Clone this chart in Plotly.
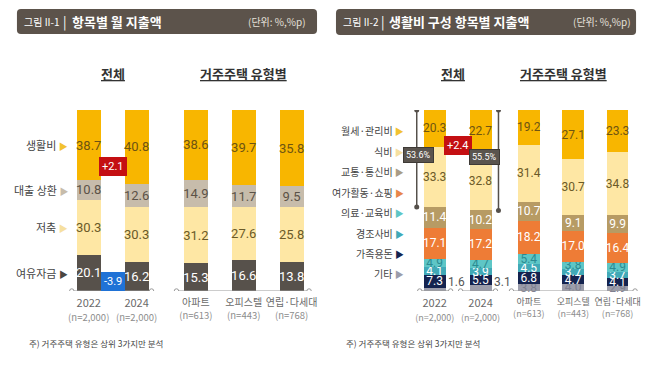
import plotly.graph_objects as go

W, H = 658, 377

# ---------------- data : 그림 II-1 ----------------
l_periods = ["2022", "2024"]
l_period_n = ["(n=2,000)", "(n=2,000)"]
l_types = ["아파트", "오피스텔", "연립·다세대"]
l_type_n = ["(n=613)", "(n=443)", "(n=768)"]
l_items = ["생활비", "대출 상환", "저축", "여유자금"]
l_living_total = [38.7, 40.8]
l_loan_total = [10.8, 12.6]
l_saving_total = [30.3, 30.3]
l_spare_total = [20.1, 16.2]
l_living_type = [38.6, 39.7, 35.8]
l_loan_type = [14.9, 11.7, 9.5]
l_saving_type = [31.2, 27.6, 25.8]
l_spare_type = [15.3, 16.6, 13.8]

# ---------------- data : 그림 II-2 ----------------
r_periods = ["2022", "2024"]
r_period_n = ["(n=2,000)", "(n=2,000)"]
r_types = ["아파트", "오피스텔", "연립·다세대"]
r_type_n = ["(n=613)", "(n=443)", "(n=768)"]
r_items = ["월세·관리비", "식비", "교통·통신비", "여가활동·쇼핑", "의료·교육비", "경조사비", "가족용돈", "기타"]
r_rent_total = [20.3, 22.7]
r_food_total = [33.3, 32.8]
r_transport_total = [11.4, 10.2]
r_leisure_total = [17.1, 17.2]
r_medical_total = [4.9, 4.7]
r_events_total = [4.1, 3.9]
r_family_total = [7.3, 5.5]
r_other_total = [1.6, 3.1]
r_rent_type = [19.2, 27.1, 23.3]
r_food_type = [31.4, 30.7, 34.8]
r_transport_type = [10.7, 9.1, 9.9]
r_leisure_type = [18.2, 17.0, 16.4]
r_medical_type = [5.4, 3.8, 4.9]
r_events_type = [4.5, 3.7, 3.7]
r_family_type = [6.8, 4.7, 4.1]
r_other_type = [3.8, 4.0, 2.9]

KR = "Noto Sans CJK KR"
NUM = "Roboto, Noto Sans CJK KR"


def px(x):
    return x / W


def py(y):
    return 1 - y / H


def fmt(v):
    return f"{v:.1f}"


fig = go.Figure()

# ---- left panel bars (bottom -> top) ----
left_series = [
    (l_spare_total, l_spare_type, "#57514b", "#ffffff"),
    (l_saving_total, l_saving_type, "#fee7a4", "#6b5a28"),
    (l_loan_total, l_loan_type, "#c7bcab", "#5b5247"),
    (l_living_total, l_living_type, "#f8b600", "#6e5412"),
]
for tot, typ, col, tcol in left_series:
    for xs, vals, ax in ((l_periods, tot, "x"), (l_types, typ, "x2")):
        fig.add_trace(go.Bar(
            x=xs, y=vals, xaxis=ax, yaxis="y", width=0.5,
            marker=dict(color=col, line=dict(width=0)),
            text=[fmt(v) for v in vals], textposition="inside",
            insidetextanchor="middle", textangle=0, constraintext="none",
            textfont=dict(size=13, color=tcol, family=NUM),
            cliponaxis=False, hoverinfo="skip", showlegend=False))

# ---- right panel bars (bottom -> top) ----
right_series = [
    (r_other_total, r_other_type, "#9c9dab", "#7f8090"),
    (r_family_total, r_family_type, "#14234f", "#ffffff"),
    (r_events_total, r_events_type, "#41a9b7", "#ffffff"),
    (r_medical_total, r_medical_type, "#5ec6c6", "#2b8b92"),
    (r_leisure_total, r_leisure_type, "#ee7c36", "#ffffff"),
    (r_transport_total, r_transport_type, "#b79b64", "#ffffff"),
    (r_food_total, r_food_type, "#fee7a4", "#6b5a28"),
    (r_rent_total, r_rent_type, "#f8b600", "#6e5412"),
]
for i, (tot, typ, col, tcol) in enumerate(right_series):
    for xs, vals, ax, wd in ((r_periods, tot, "x3", 0.48), (r_types, typ, "x4", 0.49)):
        txt = [fmt(v) for v in vals]
        if i == 0 and ax == "x3":
            txt = ["" for v in vals]
        fig.add_trace(go.Bar(
            x=xs, y=vals, xaxis=ax, yaxis="y", width=wd,
            marker=dict(color=col, line=dict(width=0)),
            text=txt, textposition="inside",
            insidetextanchor="middle", textangle=0, constraintext="none",
            textfont=dict(size=12, color=tcol, family=NUM),
            cliponaxis=False, hoverinfo="skip", showlegend=False))


def ticks(cats, ns, nsize):
    return [f"{c}<br><span style='font-size:{nsize}px;color:#8d8d8d'>{n}</span>" for c, n in zip(cats, ns)]


def xax(lo, hi, cats, ns, size, nsize):
    return dict(domain=[px(lo), px(hi)], range=[-0.5, len(cats) - 0.5], tickvals=cats,
                ticktext=ticks(cats, ns, nsize), type="category", showgrid=False, zeroline=False,
                showline=False, ticks="", anchor="y", ticklabelstandoff=4, tickangle=0,
                tickfont=dict(family=KR, size=size, color="#6a6a6a"))


fig.update_layout(
    width=W, height=H, margin=dict(l=0, r=0, t=0, b=0),
    paper_bgcolor="white", plot_bgcolor="white",
    barmode="stack", barnorm="percent", hovermode=False,
    font=dict(family=KR, color="#444"),
    yaxis=dict(domain=[py(291), py(110)], range=[0, 100], visible=False, fixedrange=True),
    xaxis=xax(65, 161, l_periods, l_period_n, 11, 9.5),
    xaxis2=xax(172.5, 316.5, l_types, l_type_n, 10, 9.5),
    xaxis3=xax(413, 505, r_periods, r_period_n, 11, 9),
    xaxis4=xax(508.25, 641.75, r_types, r_type_n, 9, 9),
)

shapes = []
ann = []


def rrect(x0, y0, x1, y1, r, color):
    pts = (f"M {px(x0 + r)},{py(y0)} L {px(x1 - r)},{py(y0)} Q {px(x1)},{py(y0)} {px(x1)},{py(y0 + r)} "
           f"L {px(x1)},{py(y1 - r)} Q {px(x1)},{py(y1)} {px(x1 - r)},{py(y1)} "
           f"L {px(x0 + r)},{py(y1)} Q {px(x0)},{py(y1)} {px(x0)},{py(y1 - r)} "
           f"L {px(x0)},{py(y0 + r)} Q {px(x0)},{py(y0)} {px(x0 + r)},{py(y0)} Z")
    shapes.append(dict(type="path", xref="paper", yref="paper", path=pts,
                       fillcolor=color, line=dict(width=0), layer="below"))


def text(x, y, s, size, color="#444", anchor="left", bold=False, fam=KR):
    ann.append(dict(x=px(x), y=py(y), xref="paper", yref="paper", text=(f"<b>{s}</b>" if bold else s),
                    showarrow=False, xanchor=anchor, yanchor="middle",
                    font=dict(size=size, color=color, family=fam)))


# title bars
rrect(17, 9, 318, 34, 4, "#5c534b")
rrect(337, 9, 638, 35, 4, "#5c534b")
text(22, 22, "그림 II-1", 10, "#ffffff")
text(61, 21, "|", 13, "#ffffff")
text(70, 22, "항목별 월 지출액", 13, "#ffffff", bold=True)
text(309, 22, "(단위: %,%p)", 10, "#e6e1da", anchor="right")
text(342, 22, "그림 II-2", 10, "#ffffff")
text(380, 21, "|", 13, "#ffffff")
text(388, 22, "생활비 구성 항목별 지출액", 13, "#ffffff", bold=True)
text(635, 22, "(단위: %,%p)", 10, "#e6e1da", anchor="right")

# section headers
text(113, 73, "<u>전체</u>", 13, "#333", anchor="center", bold=True)
text(244, 73, "<u>거주주택 유형별</u>", 13, "#333", anchor="center", bold=True)
text(454, 73, "<u>전체</u>", 13, "#333", anchor="center", bold=True)
text(565, 73, "<u>거주주택 유형별</u>", 13, "#333", anchor="center", bold=True)

# footnotes
text(27, 343, "주) 거주주택 유형은 상위 3가지만 분석", 8.5, "#444")
text(345, 343, "주) 거주주택 유형은 상위 3가지만 분석", 8.5, "#444")

# left item labels aligned with 2022 segments
l_stack = [l_spare_total[0], l_saving_total[0], l_loan_total[0], l_living_total[0]]
l_tri = ["#4a4540", "#f6e0a0", "#c7bcab", "#f2c230"]
tot0 = sum(l_stack)
cum = 0
mids = []
for v in l_stack:
    mids.append((cum + v / 2) / tot0 * 100)
    cum += v
for name, mid, tc in zip(l_items[::-1], mids, l_tri):
    ann.append(dict(x=px(70), y=mid, xref="paper", yref="y", showarrow=False, xanchor="right",
                    yanchor="middle",
                    text=f"{name} <span style='color:{tc};font-size:9px'>▶</span>",
                    font=dict(size=11, color="#444", family=KR)))

# right item labels
r_tri = ["#f2c230", "#f6e0a0", "#a99c86", "#e8864a", "#5ec6c6", "#41a9b7", "#14234f", "#9c9dab"]
for k, (name, tc) in enumerate(zip(r_items, r_tri)):
    ann.append(dict(x=px(407), y=py(131 + k * 20.4), xref="paper", yref="paper", showarrow=False,
                    xanchor="right", yanchor="middle",
                    text=f"{name} <span style='color:{tc};font-size:9px'>▶</span>",
                    font=dict(size=10, color="#444", family=KR)))

# outside labels for small 기타 values
for k, v in enumerate(r_other_total):
    ann.append(dict(x=k, y=0, xref="x3", yref="y", xanchor="left", yanchor="bottom", xshift=11,
                    showarrow=False, text=fmt(v), font=dict(size=12, color="#555", family=NUM)))


# change badges
def badge(xref, x, y, s, bg):
    ann.append(dict(x=x, y=y, xref=xref, yref="y", showarrow=False, text=s, bgcolor=bg,
                    bordercolor=bg, borderpad=2, font=dict(size=11, color="white", family=NUM)))


d_living = l_living_total[1] - l_living_total[0]
d_spare = l_spare_total[1] - l_spare_total[0]
d_rent = r_rent_total[1] - r_rent_total[0]
badge("x", 0.5, 69, f"{d_living:+.1f}", "#c40f12")
badge("x", 0.5, 5.5, f"{d_spare:+.1f}", "#1f72d6")
badge("x3", 0.5, 80.5, f"{d_rent:+.1f}", "#c40f12")


# brackets for rent+food share
def bracket(xp, share):
    c = "#55504b"
    shapes.append(dict(type="line", xref="paper", yref="y", x0=px(xp), x1=px(xp), y0=100,
                       y1=100 - share, line=dict(color=c, width=1.5)))
    for yy in (100, 100 - share):
        shapes.append(dict(type="circle", xref="paper", yref="y", xsizemode="pixel", ysizemode="pixel",
                           xanchor=px(xp), yanchor=yy, x0=-2.5, x1=2.5, y0=-2.5, y1=2.5,
                           fillcolor=c, line=dict(width=0)))
    ann.append(dict(x=px(xp + 2), y=100 - share / 2 + 2, xref="paper", yref="y", showarrow=False,
                    text=f"{share:.1f}%", bgcolor="#5a544e", bordercolor="#3e3a36", borderpad=2,
                    font=dict(size=9, color="white", family=NUM)))


bracket(418, r_rent_total[0] + r_food_total[0])
bracket(500, r_rent_total[1] + r_food_total[1])


# baseline lines with end circles
def baseline(x0, x1):
    c = "#9a9a9a"
    shapes.append(dict(type="line", xref="paper", yref="y", x0=px(x0), x1=px(x1), y0=0, y1=0,
                       line=dict(color=c, width=1.2)))
    for xx in (x0, x1):
        shapes.append(dict(type="circle", xref="paper", yref="y", xsizemode="pixel", ysizemode="pixel",
                           xanchor=px(xx), yanchor=0, x0=-2.2, x1=2.2, y0=-2.2, y1=2.2,
                           fillcolor="white", line=dict(color=c, width=1)))


baseline(72, 152)
baseline(177, 310)
baseline(421, 452)
baseline(462, 497)
baseline(513, 637)

fig.update_layout(shapes=shapes, annotations=ann)
fig.write_html("out.html", config=dict(displayModeBar=False),
               post_script="document.body.style.margin='0px';")
